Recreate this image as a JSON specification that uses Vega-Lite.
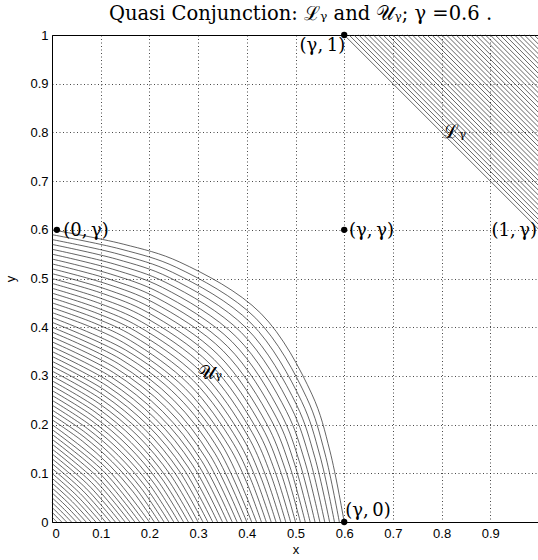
{
  "$schema": "https://vega.github.io/schema/vega-lite/v6.json",
  "width": 487,
  "height": 487,
  "autosize": {"type": "none"},
  "padding": {"left": 52, "top": 35, "right": 0, "bottom": 38},
  "background": "white",
  "title": {
    "text": "Quasi Conjunction: ℒᵧ and 𝒰ᵧ; γ =0.6 .",
    "font": "DejaVu Serif",
    "fontSize": 19.5,
    "fontWeight": "normal",
    "color": "#000",
    "anchor": "middle",
    "offset": 5,
    "dx": 5
  },
  "config": {
    "view": {"stroke": "#000", "strokeWidth": 1},
    "axis": {
      "domain": false,
      "ticks": false,
      "grid": true,
      "gridColor": "#000",
      "gridDash": [1, 2.5],
      "gridWidth": 0.8,
      "gridOpacity": 0.9,
      "labelFont": "Liberation Sans",
      "labelFontSize": 13,
      "labelColor": "#000",
      "titleFont": "Liberation Sans",
      "titleFontSize": 13,
      "titleFontWeight": "normal",
      "titleColor": "#000",
      "zindex": 1
    },
    "text": {"font": "DejaVu Serif", "color": "#000"}
  },
  "datasets": {
    "arcs": [
      {"c":0.01,"x":[0,0.005,0.01],"y":[0.01,0.005,0]},
      {"c":0.02,"x":[0,0.0101,0.02],"y":[0.02,0.0101,0]},
      {"c":0.03,"x":[0,0.0152,0.03],"y":[0.03,0.0152,0]},
      {"c":0.04,"x":[0,0.0204,0.04],"y":[0.04,0.0204,0]},
      {"c":0.05,"x":[0,0.0256,0.05],"y":[0.05,0.0256,0]},
      {"c":0.06,"x":[0,0.0309,0.06],"y":[0.06,0.0309,0]},
      {"c":0.07,"x":[0,0.0363,0.07],"y":[0.07,0.0363,0]},
      {"c":0.08,"x":[0,0.0417,0.08],"y":[0.08,0.0417,0]},
      {"c":0.09,"x":[0,0.0471,0.09],"y":[0.09,0.0471,0]},
      {"c":0.10,"x":[0,0.0526,0.10],"y":[0.10,0.0526,0]},
      {"c":0.11,"x":[0,0.0582,0.11],"y":[0.11,0.0582,0]},
      {"c":0.12,"x":[0,0.0638,0.12],"y":[0.12,0.0638,0]},
      {"c":0.13,"x":[0,0.0695,0.13],"y":[0.13,0.0695,0]},
      {"c":0.14,"x":[0,0.0753,0.14],"y":[0.14,0.0753,0]},
      {"c":0.15,"x":[0,0.0811,0.15],"y":[0.15,0.0811,0]},
      {"c":0.16,"x":[0,0.087,0.16],"y":[0.16,0.087,0]},
      {"c":0.17,"x":[0,0.0929,0.17],"y":[0.17,0.0929,0]},
      {"c":0.18,"x":[0,0.0989,0.18],"y":[0.18,0.0989,0]},
      {"c":0.19,"x":[0,0.105,0.19],"y":[0.19,0.105,0]},
      {"c":0.20,"x":[0,0.1111,0.20],"y":[0.20,0.1111,0]},
      {"c":0.21,"x":[0,0.0621,0.1173,0.1664,0.21],"y":[0.21,0.1664,0.1173,0.0621,0]},
      {"c":0.22,"x":[0,0.0656,0.1236,0.1748,0.22],"y":[0.22,0.1748,0.1236,0.0656,0]},
      {"c":0.23,"x":[0,0.0692,0.1299,0.1832,0.23],"y":[0.23,0.1832,0.1299,0.0692,0]},
      {"c":0.24,"x":[0,0.0729,0.1364,0.1917,0.24],"y":[0.24,0.1917,0.1364,0.0729,0]},
      {"c":0.25,"x":[0,0.0766,0.1429,0.2003,0.25],"y":[0.25,0.2003,0.1429,0.0766,0]},
      {"c":0.26,"x":[0,0.0803,0.1494,0.2089,0.26],"y":[0.26,0.2089,0.1494,0.0803,0]},
      {"c":0.27,"x":[0,0.0842,0.1561,0.2175,0.27],"y":[0.27,0.2175,0.1561,0.0842,0]},
      {"c":0.28,"x":[0,0.0881,0.1628,0.2262,0.28],"y":[0.28,0.2262,0.1628,0.0881,0]},
      {"c":0.29,"x":[0,0.092,0.1696,0.2349,0.29],"y":[0.29,0.2349,0.1696,0.092,0]},
      {"c":0.30,"x":[0,0.0961,0.1765,0.2437,0.30],"y":[0.30,0.2437,0.1765,0.0961,0]},
      {"c":0.31,"x":[0,0.1002,0.1834,0.2526,0.31],"y":[0.31,0.2526,0.1834,0.1002,0]},
      {"c":0.32,"x":[0,0.1044,0.1905,0.2615,0.32],"y":[0.32,0.2615,0.1905,0.1044,0]},
      {"c":0.33,"x":[0,0.1087,0.1976,0.2704,0.33],"y":[0.33,0.2704,0.1976,0.1087,0]},
      {"c":0.34,"x":[0,0.113,0.2048,0.2794,0.34],"y":[0.34,0.2794,0.2048,0.113,0]},
      {"c":0.35,"x":[0,0.1174,0.2121,0.2885,0.35],"y":[0.35,0.2885,0.2121,0.1174,0]},
      {"c":0.36,"x":[0,0.122,0.2195,0.2976,0.36],"y":[0.36,0.2976,0.2195,0.122,0]},
      {"c":0.37,"x":[0,0.1265,0.227,0.3067,0.37],"y":[0.37,0.3067,0.227,0.1265,0]},
      {"c":0.38,"x":[0,0.1312,0.2346,0.3159,0.38],"y":[0.38,0.3159,0.2346,0.1312,0]},
      {"c":0.39,"x":[0,0.136,0.2422,0.3252,0.39],"y":[0.39,0.3252,0.2422,0.136,0]},
      {"c":0.40,"x":[0,0.1409,0.25,0.3345,0.40],"y":[0.40,0.3345,0.25,0.1409,0]},
      {"c":0.41,"x":[0,0.1458,0.2579,0.3439,0.41],"y":[0.41,0.3439,0.2579,0.1458,0]},
      {"c":0.42,"x":[0,0.1509,0.2658,0.3533,0.42],"y":[0.42,0.3533,0.2658,0.1509,0]},
      {"c":0.43,"x":[0,0.0835,0.1561,0.2739,0.3628,0.3988,0.43],"y":[0.43,0.3988,0.3628,0.2739,0.1561,0.0835,0]},
      {"c":0.44,"x":[0,0.0865,0.1613,0.2821,0.3724,0.4086,0.44],"y":[0.44,0.4086,0.3724,0.2821,0.1613,0.0865,0]},
      {"c":0.45,"x":[0,0.0896,0.1667,0.2903,0.382,0.4185,0.45],"y":[0.45,0.4185,0.382,0.2903,0.1667,0.0896,0]},
      {"c":0.46,"x":[0,0.0927,0.1722,0.2987,0.3917,0.4285,0.46],"y":[0.46,0.4285,0.3917,0.2987,0.1722,0.0927,0]},
      {"c":0.47,"x":[0,0.0959,0.1778,0.3072,0.4014,0.4384,0.47],"y":[0.47,0.4384,0.4014,0.3072,0.1778,0.0959,0]},
      {"c":0.48,"x":[0,0.0992,0.1835,0.3158,0.4112,0.4484,0.48],"y":[0.48,0.4484,0.4112,0.3158,0.1835,0.0992,0]},
      {"c":0.49,"x":[0,0.1026,0.1893,0.3245,0.4211,0.4584,0.49],"y":[0.49,0.4584,0.4211,0.3245,0.1893,0.1026,0]},
      {"c":0.50,"x":[0,0.1061,0.1953,0.3333,0.431,0.4685,0.50],"y":[0.50,0.4685,0.431,0.3333,0.1953,0.1061,0]},
      {"c":0.51,"x":[0,0.1096,0.2013,0.3423,0.4409,0.4785,0.51],"y":[0.51,0.4785,0.4409,0.3423,0.2013,0.1096,0]},
      {"c":0.52,"x":[0,0.1133,0.2076,0.3514,0.451,0.4886,0.52],"y":[0.52,0.4886,0.451,0.3514,0.2076,0.1133,0]},
      {"c":0.53,"x":[0,0.117,0.2139,0.3605,0.4611,0.4988,0.53],"y":[0.53,0.4988,0.4611,0.3605,0.2139,0.117,0]},
      {"c":0.54,"x":[0,0.1209,0.2204,0.3699,0.4712,0.5089,0.54],"y":[0.54,0.5089,0.4712,0.3699,0.2204,0.1209,0]},
      {"c":0.55,"x":[0,0.1248,0.227,0.3793,0.4815,0.5191,0.55],"y":[0.55,0.5191,0.4815,0.3793,0.227,0.1248,0]},
      {"c":0.56,"x":[0,0.1289,0.2338,0.3889,0.4918,0.5294,0.56],"y":[0.56,0.5294,0.4918,0.3889,0.2338,0.1289,0]},
      {"c":0.57,"x":[0,0.133,0.2407,0.3986,0.5021,0.5396,0.57],"y":[0.57,0.5396,0.5021,0.3986,0.2407,0.133,0]},
      {"c":0.58,"x":[0,0.1373,0.2478,0.4085,0.5125,0.5499,0.58],"y":[0.58,0.5499,0.5125,0.4085,0.2478,0.1373,0]},
      {"c":0.59,"x":[0,0.1417,0.2551,0.4184,0.523,0.5602,0.59],"y":[0.59,0.5602,0.523,0.4184,0.2551,0.1417,0]},
      {"c":0.60,"x":[0,0.1462,0.2625,0.4286,0.5336,0.5706,0.60],"y":[0.60,0.5706,0.5336,0.4286,0.2625,0.1462,0]}
    ],
    "hatch": [
      {"x1":0.60,"y1":1,"x2":1,"y2":0.60},{"x1":0.61,"y1":1,"x2":1,"y2":0.61},
      {"x1":0.62,"y1":1,"x2":1,"y2":0.62},{"x1":0.63,"y1":1,"x2":1,"y2":0.63},
      {"x1":0.64,"y1":1,"x2":1,"y2":0.64},{"x1":0.65,"y1":1,"x2":1,"y2":0.65},
      {"x1":0.66,"y1":1,"x2":1,"y2":0.66},{"x1":0.67,"y1":1,"x2":1,"y2":0.67},
      {"x1":0.68,"y1":1,"x2":1,"y2":0.68},{"x1":0.69,"y1":1,"x2":1,"y2":0.69},
      {"x1":0.70,"y1":1,"x2":1,"y2":0.70},{"x1":0.71,"y1":1,"x2":1,"y2":0.71},
      {"x1":0.72,"y1":1,"x2":1,"y2":0.72},{"x1":0.73,"y1":1,"x2":1,"y2":0.73},
      {"x1":0.74,"y1":1,"x2":1,"y2":0.74},{"x1":0.75,"y1":1,"x2":1,"y2":0.75},
      {"x1":0.76,"y1":1,"x2":1,"y2":0.76},{"x1":0.77,"y1":1,"x2":1,"y2":0.77},
      {"x1":0.78,"y1":1,"x2":1,"y2":0.78},{"x1":0.79,"y1":1,"x2":1,"y2":0.79},
      {"x1":0.80,"y1":1,"x2":1,"y2":0.80},{"x1":0.81,"y1":1,"x2":1,"y2":0.81},
      {"x1":0.82,"y1":1,"x2":1,"y2":0.82},{"x1":0.83,"y1":1,"x2":1,"y2":0.83},
      {"x1":0.84,"y1":1,"x2":1,"y2":0.84},{"x1":0.85,"y1":1,"x2":1,"y2":0.85},
      {"x1":0.86,"y1":1,"x2":1,"y2":0.86},{"x1":0.87,"y1":1,"x2":1,"y2":0.87},
      {"x1":0.88,"y1":1,"x2":1,"y2":0.88},{"x1":0.89,"y1":1,"x2":1,"y2":0.89},
      {"x1":0.90,"y1":1,"x2":1,"y2":0.90},{"x1":0.91,"y1":1,"x2":1,"y2":0.91},
      {"x1":0.92,"y1":1,"x2":1,"y2":0.92},{"x1":0.93,"y1":1,"x2":1,"y2":0.93},
      {"x1":0.94,"y1":1,"x2":1,"y2":0.94},{"x1":0.95,"y1":1,"x2":1,"y2":0.95},
      {"x1":0.96,"y1":1,"x2":1,"y2":0.96},{"x1":0.97,"y1":1,"x2":1,"y2":0.97},
      {"x1":0.98,"y1":1,"x2":1,"y2":0.98},{"x1":0.99,"y1":1,"x2":1,"y2":0.99}
    ],
    "pts": [
      {"x":0.01,"y":0.6},{"x":0.6,"y":0.6},{"x":0.6,"y":1},{"x":0.6,"y":0}
    ],
    "labelsLeft": [
      {"x":0.023,"y":0.598,"t":"(0,\u2009γ)"},
      {"x":0.61,"y":0.598,"t":"(γ,\u2009γ)"},
      {"x":0.602,"y":0.023,"t":"(γ,\u20090)"}
    ],
    "labelsRight": [
      {"x":0.602,"y":0.977,"t":"(γ,\u20091)"},
      {"x":0.996,"y":0.598,"t":"(1,\u2009γ)"}
    ],
    "regions": [
      {"x":0.803,"y":0.8,"t":"ℒᵧ"},
      {"x":0.3,"y":0.306,"t":"𝒰ᵧ"}
    ]
  },
  "layer": [
    {
      "data": {"name": "arcs"},
      "transform": [{"flatten": ["x", "y"]}],
      "mark": {"type": "line", "interpolate": "catmull-rom", "stroke": "#222", "strokeWidth": 0.7},
      "encoding": {
        "x": {"field": "x", "type": "quantitative", "scale": {"domain": [0, 1], "nice": false},
              "axis": {"values": [0,0.1,0.2,0.3,0.4,0.5,0.6,0.7,0.8,0.9], "format": "~g", "title": "x", "labelPadding": 5, "titlePadding": 3}},
        "y": {"field": "y", "type": "quantitative", "scale": {"domain": [0, 1], "nice": false},
              "axis": {"values": [0,0.1,0.2,0.3,0.4,0.5,0.6,0.7,0.8,0.9,1], "format": "~g", "title": "y", "labelPadding": 4, "titlePadding": 12}},
        "detail": {"field": "c", "type": "nominal"}
      }
    },
    {
      "data": {"name": "hatch"},
      "mark": {"type": "rule", "stroke": "#333", "strokeWidth": 0.75},
      "encoding": {
        "x": {"field": "x1", "type": "quantitative", "title": "x"},
        "y": {"field": "y1", "type": "quantitative", "title": "y"},
        "x2": {"field": "x2"},
        "y2": {"field": "y2"}
      }
    },
    {
      "data": {"name": "pts"},
      "mark": {"type": "point", "filled": true, "color": "#000", "size": 40, "opacity": 1},
      "encoding": {
        "x": {"field": "x", "type": "quantitative", "title": "x"},
        "y": {"field": "y", "type": "quantitative", "title": "y"}
      }
    },
    {
      "data": {"name": "labelsLeft"},
      "mark": {"type": "text", "align": "left", "baseline": "middle", "fontSize": 18},
      "encoding": {
        "x": {"field": "x", "type": "quantitative", "title": "x"},
        "y": {"field": "y", "type": "quantitative", "title": "y"},
        "text": {"field": "t"}
      }
    },
    {
      "data": {"name": "labelsRight"},
      "mark": {"type": "text", "align": "right", "baseline": "middle", "fontSize": 18},
      "encoding": {
        "x": {"field": "x", "type": "quantitative", "title": "x"},
        "y": {"field": "y", "type": "quantitative", "title": "y"},
        "text": {"field": "t"}
      }
    },
    {
      "data": {"name": "regions"},
      "mark": {"type": "text", "align": "left", "baseline": "middle", "fontSize": 19},
      "encoding": {
        "x": {"field": "x", "type": "quantitative", "title": "x"},
        "y": {"field": "y", "type": "quantitative", "title": "y"},
        "text": {"field": "t"}
      }
    }
  ]
}
